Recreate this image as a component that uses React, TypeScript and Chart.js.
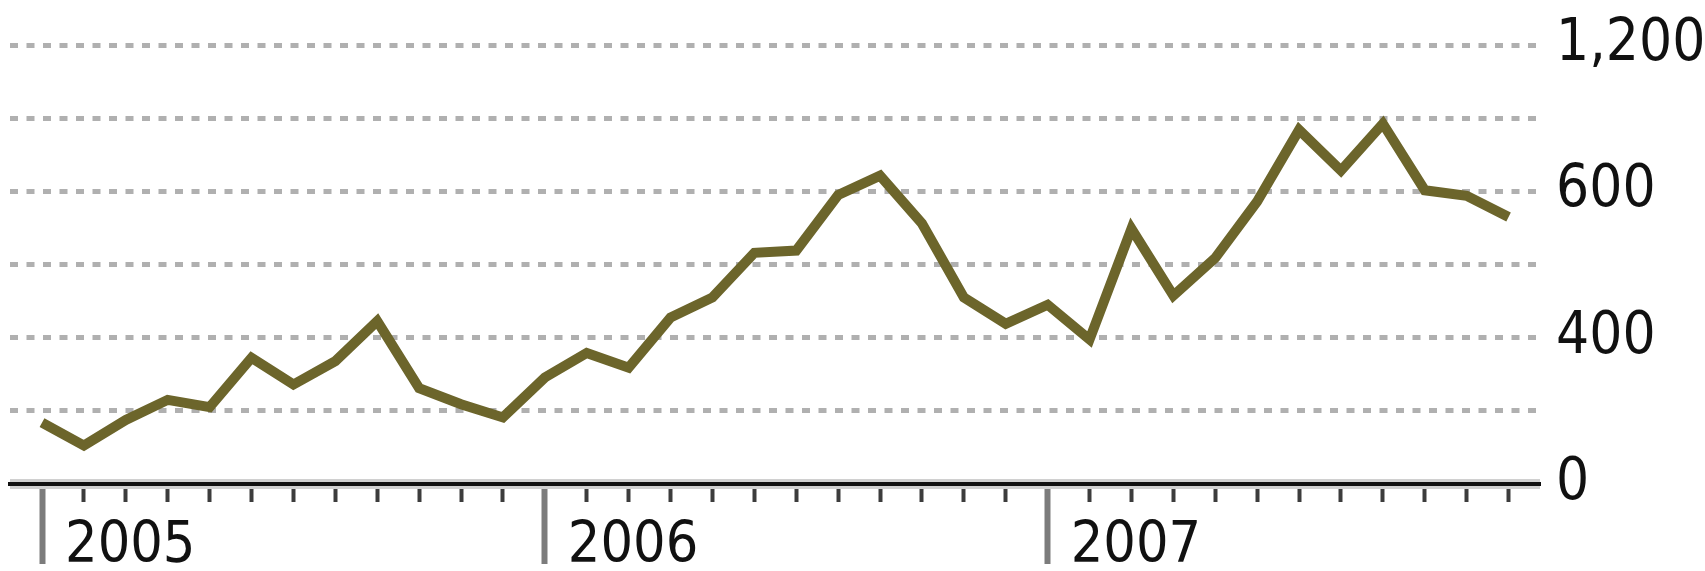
import React, { useEffect, useRef } from "react";
import { Chart, registerables } from "chart.js";

Chart.register(...registerables);

// Monthly values, Jan 2005 .. Dec 2007
const years = ["2005", "2006", "2007"];
const monthsPerYear = 12;
const values = [
  168, 105, 175, 230, 210, 345, 272, 336, 445, 262, 218, 182,
  291, 358, 318, 455, 510, 632, 638, 790, 843, 712, 510, 438,
  490, 395, 698, 515, 618, 772, 968, 857, 985, 803, 788, 730,
];
const yTicks = [0, 200, 400, 600, 800, 1000, 1200];
const yTickLabels = ["0", "", "400", "", "600", "", "1,200"];

const FONT = "'DejaVu Sans Condensed', 'Liberation Sans Narrow', sans-serif";

export default function App() {
  const ref = useRef<HTMLCanvasElement>(null);

  useEffect(() => {
    if (!ref.current) return;
    const isMajor = (v: number) => v % monthsPerYear === 0;
    const chart = new Chart(ref.current, {
      type: "line",
      data: {
        datasets: [
          {
            data: values.map((v, i) => ({ x: i, y: v })),
            borderColor: "#6c652b",
            borderWidth: 10,
            pointRadius: 0,
            tension: 0,
            fill: false,
            borderJoinStyle: "miter",
            borderCapStyle: "butt",
          },
        ],
      },
      options: {
        animation: false,
        responsive: true,
        maintainAspectRatio: false,
        devicePixelRatio: 1,
        layout: { padding: { left: 10, top: 33, right: 0, bottom: 0 } },
        plugins: { legend: { display: false }, tooltip: { enabled: false } },
        scales: {
          x: {
            type: "linear",
            min: -0.764,
            max: 35.75,
            afterBuildTicks: (axis: any) => {
              axis.ticks = values.map((_, i) => ({ value: i }));
            },
            afterFit: (axis: any) => {
              axis.height = 87;
            },
            grid: {
              drawOnChartArea: false,
              drawTicks: true,
              tickLength: 80,
              tickWidth: (c: any) => (c.tick && isMajor(c.tick.value) ? 6 : 4),
              tickColor: (c: any) => (c.tick && isMajor(c.tick.value) ? "#7c7c7c" : "#3c3c3c"),
              tickBorderDash: (c: any) => (c.tick && isMajor(c.tick.value) ? [] : [16, 400]),
            },
            border: { display: true, color: "#111111", width: 4, z: 1 },
            ticks: {
              autoSkip: false,
              maxRotation: 0,
              minRotation: 0,
              align: "start",
              labelOffset: 23,
              padding: -45,
              color: "#111111",
              font: { family: FONT, size: 57, lineHeight: 1 },
              callback: (v: any) => (isMajor(v) ? years[v / monthsPerYear] : ""),
            },
          },
          y: {
            position: "right",
            min: 0,
            max: 1200,
            afterBuildTicks: (axis: any) => {
              axis.ticks = yTicks.map((v) => ({ value: v }));
            },
            afterFit: (axis: any) => {
              axis.width = 165;
            },
            grid: {
              drawTicks: false,
              color: (c: any) => (c.tick && c.tick.value === 0 ? "#d0d0d0" : "#b0b0b0"),
              lineWidth: (c: any) => (c.tick && c.tick.value === 0 ? 10 : 5),
            },
            border: {
              display: false,
              dash: (c: any) => (c.tick && c.tick.value === 0 ? [] : [8, 8.5]),
            },
            ticks: {
              padding: 16,
              color: "#111111",
              font: { family: FONT, size: 58, lineHeight: 1 },
              callback: (_v: any, i: number) => yTickLabels[i],
            },
          },
        },
      },
    } as any);
    return () => chart.destroy();
  }, []);

  return (
    <div style={{ position: "fixed", left: 0, top: 0, width: 1705, height: 571, background: "#fff" }}>
      <canvas ref={ref} />
    </div>
  );
}
